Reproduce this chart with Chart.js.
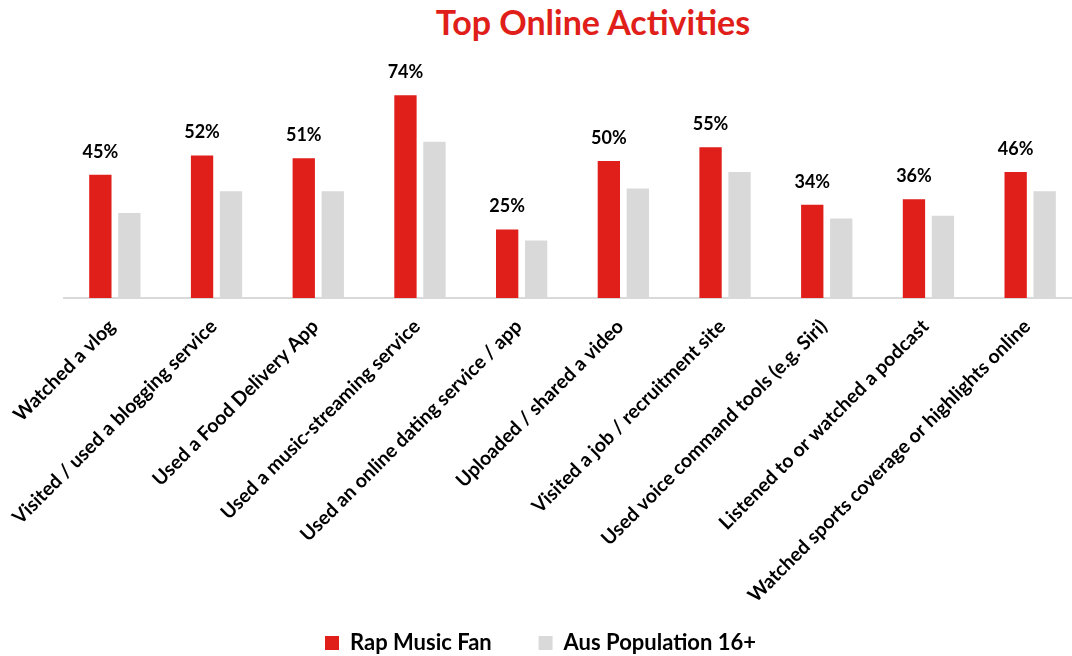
<!DOCTYPE html>
<html>
<head>
<meta charset="utf-8">
<title>Top Online Activities</title>
<script src="https://cdn.jsdelivr.net/npm/chart.js@4.4.1/dist/chart.umd.min.js"></script>
<style>
  html, body { margin: 0; padding: 0; background: #fff; width: 1072px; height: 656px; overflow: hidden; }
  #title {
    position: absolute; left: 393px; top: 1px; width: 400px;
    text-align: center; font: bold 34px Lato, sans-serif; color: #E01E1A;
  }
  #wrap { position: absolute; left: 0; top: 0; width: 1081px; height: 656px; }
</style>
</head>
<body>
<div id="title">Top Online Activities</div>
<div id="wrap"><canvas id="chart"></canvas></div>
<script>
// Data
const categories = [
  'Watched a vlog',
  'Visited / used a blogging service',
  'Used a Food Delivery App',
  'Used a music-streaming service',
  'Used an online dating service / app',
  'Uploaded / shared a video',
  'Visited a job / recruitment site',
  'Used voice command tools (e.g. Siri)',
  'Listened to or watched a podcast',
  'Watched sports coverage or highlights online'
];
const rapFan = [45, 52, 51, 74, 25, 50, 55, 34, 36, 46];
const ausPop = [31, 39, 39, 57, 21, 40, 46, 29, 30, 39];

const RED = '#E01E1A';
const GREY = '#D9D9D9';

// percent labels above the red bars only
const barLabels = {
  id: 'barLabels',
  afterDatasetsDraw(chart) {
    const ctx = chart.ctx;
    const meta = chart.getDatasetMeta(0);
    ctx.save();
    ctx.font = 'bold 18px Lato';
    ctx.fillStyle = '#000';
    ctx.textAlign = 'center';
    ctx.textBaseline = 'middle';
    meta.data.forEach((bar, i) => {
      ctx.fillText(rapFan[i] + '%', bar.x, bar.y - 23);
    });
    ctx.restore();
  }
};

// default legend items, with a wider gap after the first one
const legendItems = chart =>
  Chart.defaults.plugins.legend.labels.generateLabels(chart)
    .map((item, i) => i === 0 ? { ...item, text: item.text + '\u2003 ' } : item);

new Chart(document.getElementById('chart'), {
  type: 'bar',
  data: {
    labels: categories,
    datasets: [
      { label: 'Rap Music Fan', data: rapFan, backgroundColor: RED },
      { label: 'Aus Population 16+', data: ausPop, backgroundColor: GREY }
    ]
  },
  options: {
    responsive: true,
    maintainAspectRatio: false,
    animation: false,
    categoryPercentage: 0.57,
    barPercentage: 0.77,
    layout: { padding: { top: 24 } },
    plugins: {
      title: { display: false },
      tooltip: { enabled: false },
      legend: {
        position: 'bottom',
        maxHeight: 49,
        labels: {
          boxWidth: 14,
          boxHeight: 14,
          padding: 25,
          color: '#000',
          font: { family: 'Lato', weight: 'bold', size: 22 },
          generateLabels: legendItems
        }
      }
    },
    scales: {
      x: {
        grid: { display: false },
        border: { color: GREY, width: 2 },
        ticks: {
          color: '#000',
          autoSkip: false,
          minRotation: 45,
          maxRotation: 45,
          padding: 9,
          labelOffset: -3,
          font: { family: 'Lato', weight: 'bold', size: 19.5 }
        },
        afterFit: axis => { axis.height = 309; }
      },
      y: {
        min: 0,
        max: 100,
        grid: { display: false },
        border: { display: false },
        ticks: { display: false },
        afterFit: axis => { axis.width = 64; }
      }
    }
  },
  plugins: [barLabels]
});
</script>
</body>
</html>
